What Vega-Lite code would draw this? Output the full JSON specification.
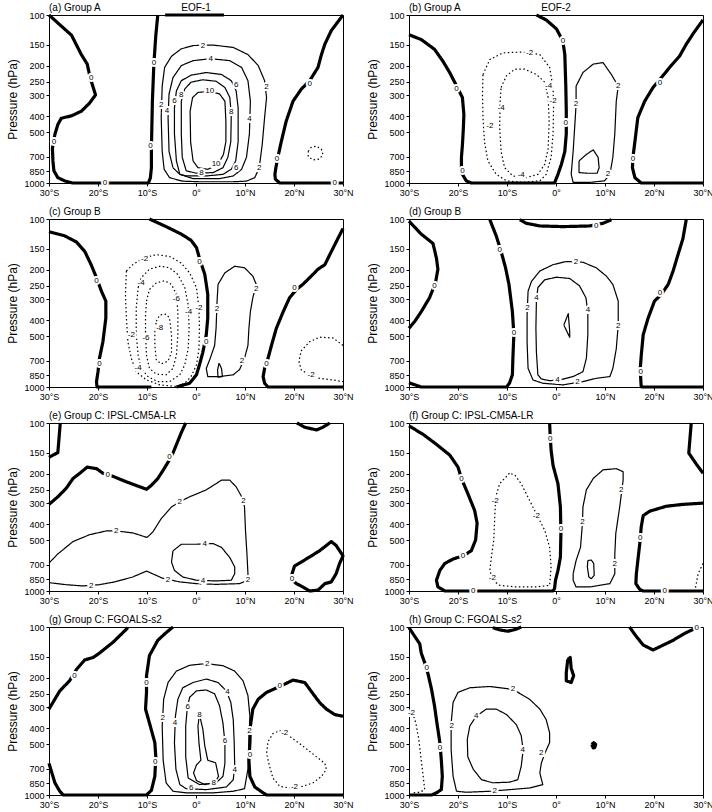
{
"$schema": "https://vega.github.io/schema/vega-lite/v6.json",
"padding": {"left": 6, "top": 2, "right": 2, "bottom": 2},
"background": "white",
"config": {"font": "Liberation Sans", "view": {"stroke": "black", "strokeWidth": 1}, "axis": {"grid": false, "domain": false, "tickColor": "black", "labelColor": "black", "titleColor": "black", "labelFontSize": 9, "tickSize": 3, "labelPadding": 2}},
"data": {"values": [
{"panel":"a","id":1,"level":0,"lat":-30,"p":100},{"panel":"a","id":1,"level":0,"lat":-25.4,"p":132},{"panel":"a","id":1,"level":0,"lat":-23.4,"p":172},{"panel":"a","id":1,"level":0,"lat":-22.2,"p":196},{"panel":"a","id":1,"level":0,"lat":-21.6,"p":236},{"panel":"a","id":1,"level":0,"lat":-20.5,"p":299},{"panel":"a","id":1,"level":0,"lat":-21.7,"p":334},{"panel":"a","id":1,"level":0,"lat":-23.4,"p":374},{"panel":"a","id":1,"level":0,"lat":-25.4,"p":398},{"panel":"a","id":1,"level":0,"lat":-27.5,"p":412},{"panel":"a","id":1,"level":0,"lat":-28.2,"p":449},{"panel":"a","id":1,"level":0,"lat":-28.8,"p":514},{"panel":"a","id":1,"level":0,"lat":-29.3,"p":622},{"panel":"a","id":1,"level":0,"lat":-29.2,"p":739},{"panel":"a","id":1,"level":0,"lat":-29,"p":846},{"panel":"a","id":1,"level":0,"lat":-28.2,"p":929},{"panel":"a","id":1,"level":0,"lat":-26.8,"p":971},{"panel":"a","id":1,"level":0,"lat":-25.2,"p":1000},{"panel":"a","id":1,"level":0,"lat":-9.7,"p":1000},{"panel":"a","id":1,"level":0,"lat":-9.3,"p":929},{"panel":"a","id":1,"level":0,"lat":-9.1,"p":811},{"panel":"a","id":1,"level":0,"lat":-9.1,"p":622},{"panel":"a","id":1,"level":0,"lat":-8.9,"p":326},{"panel":"a","id":1,"level":0,"lat":-8.6,"p":196},{"panel":"a","id":1,"level":0,"lat":-8.2,"p":132},{"panel":"a","id":1,"level":0,"lat":-7.8,"p":100},
{"panel":"a","id":2,"level":0,"lat":-6.3,"p":100},{"panel":"a","id":2,"level":0,"lat":5.7,"p":100},
{"panel":"a","id":3,"level":0,"lat":30,"p":100},{"panel":"a","id":3,"level":0,"lat":27.6,"p":124},{"panel":"a","id":3,"level":0,"lat":26.3,"p":149},{"panel":"a","id":3,"level":0,"lat":25.6,"p":172},{"panel":"a","id":3,"level":0,"lat":24.9,"p":205},{"panel":"a","id":3,"level":0,"lat":23.2,"p":246},{"panel":"a","id":3,"level":0,"lat":21.5,"p":276},{"panel":"a","id":3,"level":0,"lat":19.8,"p":326},{"panel":"a","id":3,"level":0,"lat":18.4,"p":429},{"panel":"a","id":3,"level":0,"lat":17.4,"p":568},{"panel":"a","id":3,"level":0,"lat":16.7,"p":704},{"panel":"a","id":3,"level":0,"lat":16.3,"p":811},{"panel":"a","id":3,"level":0,"lat":16.1,"p":888},{"panel":"a","id":3,"level":0,"lat":16.2,"p":950},{"panel":"a","id":3,"level":0,"lat":17.1,"p":1000},{"panel":"a","id":3,"level":0,"lat":30,"p":1000},
{"panel":"a","id":4,"level":-2,"lat":22.9,"p":649},{"panel":"a","id":4,"level":-2,"lat":23.5,"p":614},{"panel":"a","id":4,"level":-2,"lat":24.6,"p":603},{"panel":"a","id":4,"level":-2,"lat":25.6,"p":630},{"panel":"a","id":4,"level":-2,"lat":25.9,"p":676},{"panel":"a","id":4,"level":-2,"lat":25.2,"p":721},{"panel":"a","id":4,"level":-2,"lat":23.9,"p":729},{"panel":"a","id":4,"level":-2,"lat":22.9,"p":697},{"panel":"a","id":4,"level":-2,"lat":22.9,"p":649},
{"panel":"a","id":5,"level":2,"lat":-2.8,"p":975},{"panel":"a","id":5,"level":2,"lat":-5.4,"p":929},{"panel":"a","id":5,"level":2,"lat":-6.5,"p":829},{"panel":"a","id":5,"level":2,"lat":-6.9,"p":649},{"panel":"a","id":5,"level":2,"lat":-7.1,"p":408},{"panel":"a","id":5,"level":2,"lat":-6.9,"p":265},{"panel":"a","id":5,"level":2,"lat":-6.4,"p":205},{"panel":"a","id":5,"level":2,"lat":-5,"p":176},{"panel":"a","id":5,"level":2,"lat":-3,"p":159},{"panel":"a","id":5,"level":2,"lat":-0.6,"p":152},{"panel":"a","id":5,"level":2,"lat":3.5,"p":151},{"panel":"a","id":5,"level":2,"lat":7.6,"p":156},{"panel":"a","id":5,"level":2,"lat":10.6,"p":172},{"panel":"a","id":5,"level":2,"lat":12.7,"p":200},{"panel":"a","id":5,"level":2,"lat":14,"p":246},{"panel":"a","id":5,"level":2,"lat":14.4,"p":310},{"panel":"a","id":5,"level":2,"lat":14,"p":408},{"panel":"a","id":5,"level":2,"lat":13.5,"p":595},{"panel":"a","id":5,"level":2,"lat":12.9,"p":811},{"panel":"a","id":5,"level":2,"lat":12,"p":929},{"panel":"a","id":5,"level":2,"lat":10.3,"p":975},{"panel":"a","id":5,"level":2,"lat":7.6,"p":983},{"panel":"a","id":5,"level":2,"lat":0.7,"p":983},{"panel":"a","id":5,"level":2,"lat":-2.8,"p":975},
{"panel":"a","id":6,"level":4,"lat":-4.7,"p":811},{"panel":"a","id":6,"level":4,"lat":-5.5,"p":649},{"panel":"a","id":6,"level":4,"lat":-5.7,"p":408},{"panel":"a","id":6,"level":4,"lat":-5.5,"p":295},{"panel":"a","id":6,"level":4,"lat":-4.7,"p":236},{"panel":"a","id":6,"level":4,"lat":-3,"p":200},{"panel":"a","id":6,"level":4,"lat":-0.6,"p":187},{"panel":"a","id":6,"level":4,"lat":3,"p":182},{"panel":"a","id":6,"level":4,"lat":6.9,"p":187},{"panel":"a","id":6,"level":4,"lat":9.3,"p":205},{"panel":"a","id":6,"level":4,"lat":10.6,"p":246},{"panel":"a","id":6,"level":4,"lat":11.1,"p":326},{"panel":"a","id":6,"level":4,"lat":10.9,"p":510},{"panel":"a","id":6,"level":4,"lat":10.3,"p":704},{"panel":"a","id":6,"level":4,"lat":9.3,"p":829},{"panel":"a","id":6,"level":4,"lat":7.6,"p":908},{"panel":"a","id":6,"level":4,"lat":4.8,"p":942},{"panel":"a","id":6,"level":4,"lat":-0.6,"p":942},{"panel":"a","id":6,"level":4,"lat":-3.3,"p":888},{"panel":"a","id":6,"level":4,"lat":-4.7,"p":811},
{"panel":"a","id":7,"level":6,"lat":-3.3,"p":888},{"panel":"a","id":7,"level":6,"lat":-4,"p":739},{"panel":"a","id":7,"level":6,"lat":-4.4,"p":510},{"panel":"a","id":7,"level":6,"lat":-4.4,"p":358},{"panel":"a","id":7,"level":6,"lat":-4,"p":283},{"panel":"a","id":7,"level":6,"lat":-3,"p":246},{"panel":"a","id":7,"level":6,"lat":-1,"p":228},{"panel":"a","id":7,"level":6,"lat":2.1,"p":220},{"panel":"a","id":7,"level":6,"lat":5.2,"p":226},{"panel":"a","id":7,"level":6,"lat":7.2,"p":246},{"panel":"a","id":7,"level":6,"lat":8.2,"p":283},{"panel":"a","id":7,"level":6,"lat":8.6,"p":358},{"panel":"a","id":7,"level":6,"lat":8.6,"p":568},{"panel":"a","id":7,"level":6,"lat":8.1,"p":739},{"panel":"a","id":7,"level":6,"lat":7.2,"p":829},{"panel":"a","id":7,"level":6,"lat":5.5,"p":888},{"panel":"a","id":7,"level":6,"lat":2.1,"p":908},{"panel":"a","id":7,"level":6,"lat":-2,"p":908},{"panel":"a","id":7,"level":6,"lat":-3.3,"p":888},
{"panel":"a","id":8,"level":8,"lat":-2,"p":846},{"panel":"a","id":8,"level":8,"lat":-2.8,"p":704},{"panel":"a","id":8,"level":8,"lat":-3,"p":510},{"panel":"a","id":8,"level":8,"lat":-3,"p":326},{"panel":"a","id":8,"level":8,"lat":-2.3,"p":276},{"panel":"a","id":8,"level":8,"lat":-1,"p":251},{"panel":"a","id":8,"level":8,"lat":1.4,"p":243},{"panel":"a","id":8,"level":8,"lat":4.1,"p":248},{"panel":"a","id":8,"level":8,"lat":5.9,"p":270},{"panel":"a","id":8,"level":8,"lat":6.9,"p":310},{"panel":"a","id":8,"level":8,"lat":7.2,"p":390},{"panel":"a","id":8,"level":8,"lat":7.1,"p":568},{"panel":"a","id":8,"level":8,"lat":6.5,"p":704},{"panel":"a","id":8,"level":8,"lat":5.5,"p":811},{"panel":"a","id":8,"level":8,"lat":3.5,"p":867},{"panel":"a","id":8,"level":8,"lat":0.1,"p":875},{"panel":"a","id":8,"level":8,"lat":-2,"p":846},
{"panel":"a","id":9,"level":10,"lat":-0.6,"p":739},{"panel":"a","id":9,"level":10,"lat":-1.1,"p":568},{"panel":"a","id":9,"level":10,"lat":-1.2,"p":374},{"panel":"a","id":9,"level":10,"lat":-0.7,"p":310},{"panel":"a","id":9,"level":10,"lat":0.4,"p":289},{"panel":"a","id":9,"level":10,"lat":2.8,"p":285},{"panel":"a","id":9,"level":10,"lat":4.8,"p":295},{"panel":"a","id":9,"level":10,"lat":5.9,"p":326},{"panel":"a","id":9,"level":10,"lat":6.1,"p":429},{"panel":"a","id":9,"level":10,"lat":6.1,"p":568},{"panel":"a","id":9,"level":10,"lat":5.6,"p":676},{"panel":"a","id":9,"level":10,"lat":4.5,"p":775},{"panel":"a","id":9,"level":10,"lat":2.4,"p":829},{"panel":"a","id":9,"level":10,"lat":0.4,"p":811},{"panel":"a","id":9,"level":10,"lat":-0.6,"p":739},

{"panel":"b","id":1,"level":0,"lat":-30,"p":131},{"panel":"b","id":1,"level":0,"lat":-27.5,"p":140},{"panel":"b","id":1,"level":0,"lat":-24.8,"p":160},{"panel":"b","id":1,"level":0,"lat":-23.1,"p":188},{"panel":"b","id":1,"level":0,"lat":-21.7,"p":220},{"panel":"b","id":1,"level":0,"lat":-20.3,"p":264},{"panel":"b","id":1,"level":0,"lat":-19.1,"p":310},{"panel":"b","id":1,"level":0,"lat":-18.8,"p":390},{"panel":"b","id":1,"level":0,"lat":-18.9,"p":469},{"panel":"b","id":1,"level":0,"lat":-19.1,"p":595},{"panel":"b","id":1,"level":0,"lat":-19.3,"p":704},{"panel":"b","id":1,"level":0,"lat":-19.3,"p":811},{"panel":"b","id":1,"level":0,"lat":-19.1,"p":888},{"panel":"b","id":1,"level":0,"lat":-18.3,"p":971},{"panel":"b","id":1,"level":0,"lat":-17.3,"p":1000},{"panel":"b","id":1,"level":0,"lat":-0.3,"p":1000},{"panel":"b","id":1,"level":0,"lat":0.4,"p":888},{"panel":"b","id":1,"level":0,"lat":1.1,"p":775},{"panel":"b","id":1,"level":0,"lat":1.8,"p":649},{"panel":"b","id":1,"level":0,"lat":2.1,"p":510},{"panel":"b","id":1,"level":0,"lat":2.1,"p":374},{"panel":"b","id":1,"level":0,"lat":2,"p":265},{"panel":"b","id":1,"level":0,"lat":1.8,"p":172},{"panel":"b","id":1,"level":0,"lat":1.4,"p":143},{"panel":"b","id":1,"level":0,"lat":0.1,"p":121},{"panel":"b","id":1,"level":0,"lat":-2,"p":107},{"panel":"b","id":1,"level":0,"lat":-4,"p":100},
{"panel":"b","id":2,"level":0,"lat":30,"p":107},{"panel":"b","id":2,"level":0,"lat":28,"p":129},{"panel":"b","id":2,"level":0,"lat":26.6,"p":149},{"panel":"b","id":2,"level":0,"lat":25.2,"p":176},{"panel":"b","id":2,"level":0,"lat":23.5,"p":200},{"panel":"b","id":2,"level":0,"lat":21.5,"p":236},{"panel":"b","id":2,"level":0,"lat":19.8,"p":270},{"panel":"b","id":2,"level":0,"lat":18.1,"p":326},{"panel":"b","id":2,"level":0,"lat":16.7,"p":408},{"panel":"b","id":2,"level":0,"lat":16.1,"p":568},{"panel":"b","id":2,"level":0,"lat":15.7,"p":704},{"panel":"b","id":2,"level":0,"lat":15.6,"p":811},{"panel":"b","id":2,"level":0,"lat":16.1,"p":929},{"panel":"b","id":2,"level":0,"lat":17.4,"p":1000},{"panel":"b","id":2,"level":0,"lat":30,"p":1000},
{"panel":"b","id":3,"level":-2,"lat":-14.9,"p":226},{"panel":"b","id":3,"level":-2,"lat":-13.5,"p":184},{"panel":"b","id":3,"level":-2,"lat":-10.8,"p":168},{"panel":"b","id":3,"level":-2,"lat":-6.7,"p":166},{"panel":"b","id":3,"level":-2,"lat":-3.3,"p":172},{"panel":"b","id":3,"level":-2,"lat":-1.3,"p":205},{"panel":"b","id":3,"level":-2,"lat":-0.6,"p":270},{"panel":"b","id":3,"level":-2,"lat":-0.5,"p":358},{"panel":"b","id":3,"level":-2,"lat":-0.6,"p":510},{"panel":"b","id":3,"level":-2,"lat":-1,"p":704},{"panel":"b","id":3,"level":-2,"lat":-2,"p":888},{"panel":"b","id":3,"level":-2,"lat":-3.3,"p":971},{"panel":"b","id":3,"level":-2,"lat":-6.7,"p":992},{"panel":"b","id":3,"level":-2,"lat":-10.1,"p":971},{"panel":"b","id":3,"level":-2,"lat":-12.2,"p":888},{"panel":"b","id":3,"level":-2,"lat":-13.9,"p":739},{"panel":"b","id":3,"level":-2,"lat":-14.6,"p":568},{"panel":"b","id":3,"level":-2,"lat":-14.9,"p":408},{"panel":"b","id":3,"level":-2,"lat":-15,"p":295},{"panel":"b","id":3,"level":-2,"lat":-14.9,"p":226},
{"panel":"b","id":4,"level":-4,"lat":-11.2,"p":270},{"panel":"b","id":4,"level":-4,"lat":-10.1,"p":230},{"panel":"b","id":4,"level":-4,"lat":-8.4,"p":210},{"panel":"b","id":4,"level":-4,"lat":-6.4,"p":210},{"panel":"b","id":4,"level":-4,"lat":-4,"p":226},{"panel":"b","id":4,"level":-4,"lat":-2.3,"p":251},{"panel":"b","id":4,"level":-4,"lat":-1.6,"p":310},{"panel":"b","id":4,"level":-4,"lat":-1.4,"p":429},{"panel":"b","id":4,"level":-4,"lat":-1.6,"p":622},{"panel":"b","id":4,"level":-4,"lat":-2.3,"p":775},{"panel":"b","id":4,"level":-4,"lat":-3.7,"p":888},{"panel":"b","id":4,"level":-4,"lat":-6.1,"p":929},{"panel":"b","id":4,"level":-4,"lat":-8.8,"p":908},{"panel":"b","id":4,"level":-4,"lat":-10.5,"p":811},{"panel":"b","id":4,"level":-4,"lat":-11.2,"p":649},{"panel":"b","id":4,"level":-4,"lat":-11.5,"p":469},{"panel":"b","id":4,"level":-4,"lat":-11.4,"p":326},{"panel":"b","id":4,"level":-4,"lat":-11.2,"p":270},
{"panel":"b","id":5,"level":2,"lat":4.1,"p":265},{"panel":"b","id":5,"level":2,"lat":5.5,"p":220},{"panel":"b","id":5,"level":2,"lat":7.6,"p":196},{"panel":"b","id":5,"level":2,"lat":9.6,"p":192},{"panel":"b","id":5,"level":2,"lat":11.3,"p":226},{"panel":"b","id":5,"level":2,"lat":12.7,"p":265},{"panel":"b","id":5,"level":2,"lat":12.3,"p":326},{"panel":"b","id":5,"level":2,"lat":12,"p":510},{"panel":"b","id":5,"level":2,"lat":11.6,"p":704},{"panel":"b","id":5,"level":2,"lat":11,"p":888},{"panel":"b","id":5,"level":2,"lat":9.9,"p":971},{"panel":"b","id":5,"level":2,"lat":6.9,"p":992},{"panel":"b","id":5,"level":2,"lat":3.5,"p":992},{"panel":"b","id":5,"level":2,"lat":3.1,"p":888},{"panel":"b","id":5,"level":2,"lat":3.5,"p":649},{"panel":"b","id":5,"level":2,"lat":4.1,"p":342},{"panel":"b","id":5,"level":2,"lat":4.1,"p":265},
{"panel":"b","id":6,"level":4,"lat":4.7,"p":739},{"panel":"b","id":6,"level":4,"lat":6.2,"p":676},{"panel":"b","id":6,"level":4,"lat":7.6,"p":635},{"panel":"b","id":6,"level":4,"lat":8.6,"p":704},{"panel":"b","id":6,"level":4,"lat":8.8,"p":811},{"panel":"b","id":6,"level":4,"lat":8.4,"p":875},{"panel":"b","id":6,"level":4,"lat":6.5,"p":875},{"panel":"b","id":6,"level":4,"lat":4.7,"p":867},{"panel":"b","id":6,"level":4,"lat":4.7,"p":739},

{"panel":"c","id":1,"level":0,"lat":-30,"p":119},{"panel":"c","id":1,"level":0,"lat":-26.8,"p":126},{"panel":"c","id":1,"level":0,"lat":-24.4,"p":137},{"panel":"c","id":1,"level":0,"lat":-22.7,"p":156},{"panel":"c","id":1,"level":0,"lat":-21.4,"p":187},{"panel":"c","id":1,"level":0,"lat":-20.3,"p":224},{"panel":"c","id":1,"level":0,"lat":-19.3,"p":269},{"panel":"c","id":1,"level":0,"lat":-18.4,"p":308},{"panel":"c","id":1,"level":0,"lat":-18.4,"p":389},{"panel":"c","id":1,"level":0,"lat":-19,"p":538},{"panel":"c","id":1,"level":0,"lat":-19.7,"p":675},{"panel":"c","id":1,"level":0,"lat":-20,"p":811},{"panel":"c","id":1,"level":0,"lat":-20.3,"p":929},{"panel":"c","id":1,"level":0,"lat":-20.2,"p":1000},{"panel":"c","id":1,"level":0,"lat":-9.1,"p":1000},
{"panel":"c","id":2,"level":0,"lat":-4,"p":1000},{"panel":"c","id":2,"level":0,"lat":-1.3,"p":950},{"panel":"c","id":2,"level":0,"lat":0.1,"p":846},{"panel":"c","id":2,"level":0,"lat":0.7,"p":739},{"panel":"c","id":2,"level":0,"lat":1.4,"p":621},{"panel":"c","id":2,"level":0,"lat":2.1,"p":488},{"panel":"c","id":2,"level":0,"lat":2.4,"p":389},{"panel":"c","id":2,"level":0,"lat":2.4,"p":281},{"panel":"c","id":2,"level":0,"lat":1.8,"p":214},{"panel":"c","id":2,"level":0,"lat":0.7,"p":171},{"panel":"c","id":2,"level":0,"lat":0.1,"p":148},{"panel":"c","id":2,"level":0,"lat":-1,"p":134},{"panel":"c","id":2,"level":0,"lat":-3,"p":123},{"panel":"c","id":2,"level":0,"lat":-6.1,"p":111},{"panel":"c","id":2,"level":0,"lat":-9.5,"p":100},
{"panel":"c","id":3,"level":0,"lat":30,"p":114},{"panel":"c","id":3,"level":0,"lat":28.6,"p":137},{"panel":"c","id":3,"level":0,"lat":27.3,"p":163},{"panel":"c","id":3,"level":0,"lat":26.3,"p":187},{"panel":"c","id":3,"level":0,"lat":24.9,"p":199},{"panel":"c","id":3,"level":0,"lat":23.5,"p":219},{"panel":"c","id":3,"level":0,"lat":21.8,"p":245},{"panel":"c","id":3,"level":0,"lat":20.5,"p":263},{"panel":"c","id":3,"level":0,"lat":19.1,"p":294},{"panel":"c","id":3,"level":0,"lat":17.8,"p":356},{"panel":"c","id":3,"level":0,"lat":16.4,"p":447},{"panel":"c","id":3,"level":0,"lat":15.4,"p":566},{"panel":"c","id":3,"level":0,"lat":14.7,"p":675},{"panel":"c","id":3,"level":0,"lat":14,"p":775},{"panel":"c","id":3,"level":0,"lat":13.7,"p":867},{"panel":"c","id":3,"level":0,"lat":14,"p":950},{"panel":"c","id":3,"level":0,"lat":14.7,"p":1000},{"panel":"c","id":3,"level":0,"lat":30,"p":1000},
{"panel":"c","id":4,"level":-2,"lat":-14.2,"p":204},{"panel":"c","id":4,"level":-2,"lat":-12.9,"p":187},{"panel":"c","id":4,"level":-2,"lat":-10.8,"p":171},{"panel":"c","id":4,"level":-2,"lat":-8.1,"p":163},{"panel":"c","id":4,"level":-2,"lat":-5.4,"p":167},{"panel":"c","id":4,"level":-2,"lat":-3,"p":183},{"panel":"c","id":4,"level":-2,"lat":-1.3,"p":209},{"panel":"c","id":4,"level":-2,"lat":0.1,"p":256},{"panel":"c","id":4,"level":-2,"lat":0.6,"p":340},{"panel":"c","id":4,"level":-2,"lat":0.7,"p":447},{"panel":"c","id":4,"level":-2,"lat":0.6,"p":593},{"panel":"c","id":4,"level":-2,"lat":0.1,"p":739},{"panel":"c","id":4,"level":-2,"lat":-1,"p":867},{"panel":"c","id":4,"level":-2,"lat":-2.3,"p":950},{"panel":"c","id":4,"level":-2,"lat":-4,"p":992},{"panel":"c","id":4,"level":-2,"lat":-7.4,"p":971},{"panel":"c","id":4,"level":-2,"lat":-10.1,"p":908},{"panel":"c","id":4,"level":-2,"lat":-12.2,"p":811},{"panel":"c","id":4,"level":-2,"lat":-13.2,"p":675},{"panel":"c","id":4,"level":-2,"lat":-13.9,"p":538},{"panel":"c","id":4,"level":-2,"lat":-14.2,"p":389},{"panel":"c","id":4,"level":-2,"lat":-14.4,"p":281},{"panel":"c","id":4,"level":-2,"lat":-14.2,"p":204},
{"panel":"c","id":5,"level":-4,"lat":-11.8,"p":256},{"panel":"c","id":5,"level":-4,"lat":-11.2,"p":224},{"panel":"c","id":5,"level":-4,"lat":-9.5,"p":199},{"panel":"c","id":5,"level":-4,"lat":-7.4,"p":191},{"panel":"c","id":5,"level":-4,"lat":-5.4,"p":195},{"panel":"c","id":5,"level":-4,"lat":-3.7,"p":214},{"panel":"c","id":5,"level":-4,"lat":-2.3,"p":256},{"panel":"c","id":5,"level":-4,"lat":-1.6,"p":324},{"panel":"c","id":5,"level":-4,"lat":-1.4,"p":447},{"panel":"c","id":5,"level":-4,"lat":-1.6,"p":593},{"panel":"c","id":5,"level":-4,"lat":-2.3,"p":739},{"panel":"c","id":5,"level":-4,"lat":-3.3,"p":846},{"panel":"c","id":5,"level":-4,"lat":-5.4,"p":929},{"panel":"c","id":5,"level":-4,"lat":-7.8,"p":929},{"panel":"c","id":5,"level":-4,"lat":-9.8,"p":867},{"panel":"c","id":5,"level":-4,"lat":-11.2,"p":775},{"panel":"c","id":5,"level":-4,"lat":-11.8,"p":648},{"panel":"c","id":5,"level":-4,"lat":-12.2,"p":488},{"panel":"c","id":5,"level":-4,"lat":-12.2,"p":340},{"panel":"c","id":5,"level":-4,"lat":-11.8,"p":256},
{"panel":"c","id":6,"level":-6,"lat":-10.1,"p":308},{"panel":"c","id":6,"level":-6,"lat":-9.5,"p":263},{"panel":"c","id":6,"level":-6,"lat":-8.1,"p":240},{"panel":"c","id":6,"level":-6,"lat":-6.4,"p":233},{"panel":"c","id":6,"level":-6,"lat":-5,"p":245},{"panel":"c","id":6,"level":-6,"lat":-4,"p":281},{"panel":"c","id":6,"level":-6,"lat":-3.7,"p":356},{"panel":"c","id":6,"level":-6,"lat":-3.7,"p":488},{"panel":"c","id":6,"level":-6,"lat":-4,"p":648},{"panel":"c","id":6,"level":-6,"lat":-4.7,"p":775},{"panel":"c","id":6,"level":-6,"lat":-6.1,"p":846},{"panel":"c","id":6,"level":-6,"lat":-8.1,"p":839},{"panel":"c","id":6,"level":-6,"lat":-9.5,"p":775},{"panel":"c","id":6,"level":-6,"lat":-10.1,"p":648},{"panel":"c","id":6,"level":-6,"lat":-10.3,"p":488},{"panel":"c","id":6,"level":-6,"lat":-10.3,"p":373},{"panel":"c","id":6,"level":-6,"lat":-10.1,"p":308},
{"panel":"c","id":7,"level":-8,"lat":-8.1,"p":406},{"panel":"c","id":7,"level":-8,"lat":-7.4,"p":373},{"panel":"c","id":7,"level":-8,"lat":-6.1,"p":368},{"panel":"c","id":7,"level":-8,"lat":-5.4,"p":389},{"panel":"c","id":7,"level":-8,"lat":-5,"p":488},{"panel":"c","id":7,"level":-8,"lat":-5,"p":621},{"panel":"c","id":7,"level":-8,"lat":-5.7,"p":701},{"panel":"c","id":7,"level":-8,"lat":-7.1,"p":729},{"panel":"c","id":7,"level":-8,"lat":-8.1,"p":689},{"panel":"c","id":7,"level":-8,"lat":-8.4,"p":566},{"panel":"c","id":7,"level":-8,"lat":-8.4,"p":467},{"panel":"c","id":7,"level":-8,"lat":-8.1,"p":406},
{"panel":"c","id":8,"level":2,"lat":4.5,"p":245},{"panel":"c","id":8,"level":2,"lat":5.9,"p":209},{"panel":"c","id":8,"level":2,"lat":7.9,"p":191},{"panel":"c","id":8,"level":2,"lat":9.9,"p":195},{"panel":"c","id":8,"level":2,"lat":11.6,"p":219},{"panel":"c","id":8,"level":2,"lat":12.3,"p":245},{"panel":"c","id":8,"level":2,"lat":11.6,"p":294},{"panel":"c","id":8,"level":2,"lat":11.1,"p":356},{"panel":"c","id":8,"level":2,"lat":10.8,"p":447},{"panel":"c","id":8,"level":2,"lat":10.6,"p":566},{"panel":"c","id":8,"level":2,"lat":9.9,"p":675},{"panel":"c","id":8,"level":2,"lat":8.9,"p":787},{"panel":"c","id":8,"level":2,"lat":7.6,"p":846},{"panel":"c","id":8,"level":2,"lat":4.8,"p":867},{"panel":"c","id":8,"level":2,"lat":2.4,"p":867},{"panel":"c","id":8,"level":2,"lat":2.1,"p":775},{"panel":"c","id":8,"level":2,"lat":2.9,"p":675},{"panel":"c","id":8,"level":2,"lat":3.8,"p":566},{"panel":"c","id":8,"level":2,"lat":4.1,"p":447},{"panel":"c","id":8,"level":2,"lat":4.3,"p":308},{"panel":"c","id":8,"level":2,"lat":4.5,"p":245},
{"panel":"c","id":9,"level":4,"lat":4.7,"p":721},{"panel":"c","id":9,"level":4,"lat":5.2,"p":775},{"panel":"c","id":9,"level":4,"lat":5.4,"p":867},{"panel":"c","id":9,"level":4,"lat":4.5,"p":875},{"panel":"c","id":9,"level":4,"lat":4.4,"p":793},{"panel":"c","id":9,"level":4,"lat":4.7,"p":721},
{"panel":"c","id":10,"level":-2,"lat":30,"p":566},{"panel":"c","id":10,"level":-2,"lat":28,"p":511},{"panel":"c","id":10,"level":-2,"lat":25.2,"p":505},{"panel":"c","id":10,"level":-2,"lat":23.2,"p":538},{"panel":"c","id":10,"level":-2,"lat":21.5,"p":607},{"panel":"c","id":10,"level":-2,"lat":21,"p":702},{"panel":"c","id":10,"level":-2,"lat":21.5,"p":793},{"panel":"c","id":10,"level":-2,"lat":23.2,"p":846},{"panel":"c","id":10,"level":-2,"lat":25.2,"p":888},{"panel":"c","id":10,"level":-2,"lat":28,"p":908},{"panel":"c","id":10,"level":-2,"lat":30,"p":929},

{"panel":"d","id":1,"level":0,"lat":-30,"p":103},{"panel":"d","id":1,"level":0,"lat":-27.5,"p":123},{"panel":"d","id":1,"level":0,"lat":-25.1,"p":140},{"panel":"d","id":1,"level":0,"lat":-24.4,"p":171},{"panel":"d","id":1,"level":0,"lat":-24.1,"p":199},{"panel":"d","id":1,"level":0,"lat":-24.6,"p":240},{"panel":"d","id":1,"level":0,"lat":-25.8,"p":294},{"panel":"d","id":1,"level":0,"lat":-27.5,"p":356},{"panel":"d","id":1,"level":0,"lat":-28.8,"p":406},{"panel":"d","id":1,"level":0,"lat":-30,"p":447},
{"panel":"d","id":2,"level":0,"lat":-30,"p":944},{"panel":"d","id":2,"level":0,"lat":-28.8,"p":971},{"panel":"d","id":2,"level":0,"lat":-27.5,"p":1000},{"panel":"d","id":2,"level":0,"lat":-10.1,"p":1000},{"panel":"d","id":2,"level":0,"lat":-9.5,"p":950},{"panel":"d","id":2,"level":0,"lat":-8.9,"p":846},{"panel":"d","id":2,"level":0,"lat":-8.8,"p":675},{"panel":"d","id":2,"level":0,"lat":-8.6,"p":488},{"panel":"d","id":2,"level":0,"lat":-8.9,"p":356},{"panel":"d","id":2,"level":0,"lat":-9.6,"p":245},{"panel":"d","id":2,"level":0,"lat":-10.3,"p":195},{"panel":"d","id":2,"level":0,"lat":-11.2,"p":156},{"panel":"d","id":2,"level":0,"lat":-12.2,"p":126},{"panel":"d","id":2,"level":0,"lat":-13.5,"p":101},
{"panel":"d","id":3,"level":0,"lat":-7.4,"p":101},{"panel":"d","id":3,"level":0,"lat":-6.1,"p":106},{"panel":"d","id":3,"level":0,"lat":-3.3,"p":110},{"panel":"d","id":3,"level":0,"lat":1.4,"p":111},{"panel":"d","id":3,"level":0,"lat":6.9,"p":110},{"panel":"d","id":3,"level":0,"lat":9.6,"p":106},{"panel":"d","id":3,"level":0,"lat":11.3,"p":101},
{"panel":"d","id":4,"level":0,"lat":26.6,"p":100},{"panel":"d","id":4,"level":0,"lat":25.9,"p":131},{"panel":"d","id":4,"level":0,"lat":24.9,"p":163},{"panel":"d","id":4,"level":0,"lat":23.9,"p":204},{"panel":"d","id":4,"level":0,"lat":22.9,"p":245},{"panel":"d","id":4,"level":0,"lat":21.5,"p":281},{"panel":"d","id":4,"level":0,"lat":20.1,"p":308},{"panel":"d","id":4,"level":0,"lat":18.8,"p":389},{"panel":"d","id":4,"level":0,"lat":17.8,"p":488},{"panel":"d","id":4,"level":0,"lat":17.4,"p":648},{"panel":"d","id":4,"level":0,"lat":17.2,"p":775},{"panel":"d","id":4,"level":0,"lat":17.3,"p":908},{"panel":"d","id":4,"level":0,"lat":17.4,"p":1000},{"panel":"d","id":4,"level":0,"lat":30,"p":1000},
{"panel":"d","id":5,"level":2,"lat":-5.7,"p":269},{"panel":"d","id":5,"level":2,"lat":-5,"p":235},{"panel":"d","id":5,"level":2,"lat":-3.3,"p":204},{"panel":"d","id":5,"level":2,"lat":-0.6,"p":187},{"panel":"d","id":5,"level":2,"lat":2.1,"p":179},{"panel":"d","id":5,"level":2,"lat":5.5,"p":181},{"panel":"d","id":5,"level":2,"lat":8.2,"p":195},{"panel":"d","id":5,"level":2,"lat":10.3,"p":219},{"panel":"d","id":5,"level":2,"lat":11.6,"p":245},{"panel":"d","id":5,"level":2,"lat":12.7,"p":308},{"panel":"d","id":5,"level":2,"lat":12.7,"p":427},{"panel":"d","id":5,"level":2,"lat":12.3,"p":593},{"panel":"d","id":5,"level":2,"lat":11.6,"p":775},{"panel":"d","id":5,"level":2,"lat":11,"p":867},{"panel":"d","id":5,"level":2,"lat":8.2,"p":888},{"panel":"d","id":5,"level":2,"lat":5.5,"p":929},{"panel":"d","id":5,"level":2,"lat":1.4,"p":971},{"panel":"d","id":5,"level":2,"lat":-2.7,"p":950},{"panel":"d","id":5,"level":2,"lat":-4.7,"p":908},{"panel":"d","id":5,"level":2,"lat":-5.7,"p":775},{"panel":"d","id":5,"level":2,"lat":-5.9,"p":538},{"panel":"d","id":5,"level":2,"lat":-5.9,"p":373},{"panel":"d","id":5,"level":2,"lat":-5.7,"p":269},
{"panel":"d","id":6,"level":4,"lat":-4,"p":308},{"panel":"d","id":6,"level":4,"lat":-3.7,"p":256},{"panel":"d","id":6,"level":4,"lat":-2.3,"p":230},{"panel":"d","id":6,"level":4,"lat":0.1,"p":222},{"panel":"d","id":6,"level":4,"lat":2.8,"p":226},{"panel":"d","id":6,"level":4,"lat":4.8,"p":250},{"panel":"d","id":6,"level":4,"lat":6.1,"p":294},{"panel":"d","id":6,"level":4,"lat":6.5,"p":356},{"panel":"d","id":6,"level":4,"lat":6.5,"p":488},{"panel":"d","id":6,"level":4,"lat":6.2,"p":675},{"panel":"d","id":6,"level":4,"lat":5.5,"p":811},{"panel":"d","id":6,"level":4,"lat":3.5,"p":867},{"panel":"d","id":6,"level":4,"lat":0.7,"p":908},{"panel":"d","id":6,"level":4,"lat":-1.3,"p":917},{"panel":"d","id":6,"level":4,"lat":-3,"p":896},{"panel":"d","id":6,"level":4,"lat":-3.7,"p":846},{"panel":"d","id":6,"level":4,"lat":-4,"p":621},{"panel":"d","id":6,"level":4,"lat":-4.1,"p":447},{"panel":"d","id":6,"level":4,"lat":-4,"p":308},
{"panel":"d","id":7,"level":6,"lat":1.6,"p":428},{"panel":"d","id":7,"level":6,"lat":2.5,"p":366},{"panel":"d","id":7,"level":6,"lat":2.8,"p":467},{"panel":"d","id":7,"level":6,"lat":2.8,"p":506},{"panel":"d","id":7,"level":6,"lat":1.6,"p":428},

{"panel":"e","id":1,"level":0,"lat":-30,"p":160},{"panel":"e","id":1,"level":0,"lat":-28.2,"p":150},{"panel":"e","id":1,"level":0,"lat":-28,"p":128},{"panel":"e","id":1,"level":0,"lat":-27.7,"p":100},
{"panel":"e","id":2,"level":0,"lat":-30,"p":305},{"panel":"e","id":2,"level":0,"lat":-28.2,"p":275},{"panel":"e","id":2,"level":0,"lat":-26.5,"p":245},{"panel":"e","id":2,"level":0,"lat":-25.1,"p":214},{"panel":"e","id":2,"level":0,"lat":-23.7,"p":199},{"panel":"e","id":2,"level":0,"lat":-22.2,"p":183},{"panel":"e","id":2,"level":0,"lat":-20.3,"p":187},{"panel":"e","id":2,"level":0,"lat":-19,"p":199},{"panel":"e","id":2,"level":0,"lat":-17.6,"p":204},{"panel":"e","id":2,"level":0,"lat":-14.2,"p":224},{"panel":"e","id":2,"level":0,"lat":-10.1,"p":248},{"panel":"e","id":2,"level":0,"lat":-9.1,"p":235},{"panel":"e","id":2,"level":0,"lat":-7.8,"p":214},{"panel":"e","id":2,"level":0,"lat":-6.7,"p":191},{"panel":"e","id":2,"level":0,"lat":-5.7,"p":171},{"panel":"e","id":2,"level":0,"lat":-4.7,"p":151},{"panel":"e","id":2,"level":0,"lat":-3.7,"p":128},{"panel":"e","id":2,"level":0,"lat":-3,"p":114},{"panel":"e","id":2,"level":0,"lat":-2.1,"p":100},
{"panel":"e","id":3,"level":0,"lat":20.6,"p":100},{"panel":"e","id":3,"level":0,"lat":22.2,"p":106},{"panel":"e","id":3,"level":0,"lat":24.6,"p":110},{"panel":"e","id":3,"level":0,"lat":25.9,"p":106},{"panel":"e","id":3,"level":0,"lat":27.3,"p":100},
{"panel":"e","id":4,"level":0,"lat":19.5,"p":807},{"panel":"e","id":4,"level":0,"lat":20.1,"p":711},{"panel":"e","id":4,"level":0,"lat":22.5,"p":645},{"panel":"e","id":4,"level":0,"lat":25.2,"p":577},{"panel":"e","id":4,"level":0,"lat":27.6,"p":508},{"panel":"e","id":4,"level":0,"lat":28.6,"p":536},{"panel":"e","id":4,"level":0,"lat":30,"p":618},{"panel":"e","id":4,"level":0,"lat":29.3,"p":686},{"panel":"e","id":4,"level":0,"lat":28.6,"p":789},{"panel":"e","id":4,"level":0,"lat":27.6,"p":883},{"panel":"e","id":4,"level":0,"lat":26.3,"p":904},{"panel":"e","id":4,"level":0,"lat":24.9,"p":988},{"panel":"e","id":4,"level":0,"lat":23.2,"p":1000},{"panel":"e","id":4,"level":0,"lat":21.8,"p":946},{"panel":"e","id":4,"level":0,"lat":20.5,"p":904},{"panel":"e","id":4,"level":0,"lat":19.7,"p":863},{"panel":"e","id":4,"level":0,"lat":19.5,"p":807},
{"panel":"e","id":5,"level":2,"lat":-30,"p":682},{"panel":"e","id":5,"level":2,"lat":-28.2,"p":602},{"panel":"e","id":5,"level":2,"lat":-25.1,"p":508},{"panel":"e","id":5,"level":2,"lat":-21.7,"p":462},{"panel":"e","id":5,"level":2,"lat":-18.3,"p":439},{"panel":"e","id":5,"level":2,"lat":-16.3,"p":439},{"panel":"e","id":5,"level":2,"lat":-12.9,"p":451},{"panel":"e","id":5,"level":2,"lat":-10,"p":480},{"panel":"e","id":5,"level":2,"lat":-8.8,"p":445},{"panel":"e","id":5,"level":2,"lat":-7.1,"p":371},{"panel":"e","id":5,"level":2,"lat":-5,"p":316},{"panel":"e","id":5,"level":2,"lat":-3.3,"p":294},{"panel":"e","id":5,"level":2,"lat":-1.3,"p":275},{"panel":"e","id":5,"level":2,"lat":2.1,"p":250},{"panel":"e","id":5,"level":2,"lat":5.2,"p":219},{"panel":"e","id":5,"level":2,"lat":6.9,"p":219},{"panel":"e","id":5,"level":2,"lat":8.2,"p":240},{"panel":"e","id":5,"level":2,"lat":9.5,"p":281},{"panel":"e","id":5,"level":2,"lat":9.9,"p":316},{"panel":"e","id":5,"level":2,"lat":10.1,"p":435},{"panel":"e","id":5,"level":2,"lat":10.4,"p":604},{"panel":"e","id":5,"level":2,"lat":10.6,"p":789},{"panel":"e","id":5,"level":2,"lat":10.6,"p":863},{"panel":"e","id":5,"level":2,"lat":8.9,"p":904},{"panel":"e","id":5,"level":2,"lat":4.1,"p":913},{"panel":"e","id":5,"level":2,"lat":0.1,"p":904},{"panel":"e","id":5,"level":2,"lat":-3.3,"p":883},{"panel":"e","id":5,"level":2,"lat":-6.7,"p":842},{"panel":"e","id":5,"level":2,"lat":-10.1,"p":761},{"panel":"e","id":5,"level":2,"lat":-12.9,"p":825},{"panel":"e","id":5,"level":2,"lat":-16.6,"p":883},{"panel":"e","id":5,"level":2,"lat":-19.7,"p":917},{"panel":"e","id":5,"level":2,"lat":-23.1,"p":933},{"panel":"e","id":5,"level":2,"lat":-26.5,"p":917},{"panel":"e","id":5,"level":2,"lat":-30,"p":892},
{"panel":"e","id":6,"level":4,"lat":-4.7,"p":577},{"panel":"e","id":6,"level":4,"lat":-3,"p":527},{"panel":"e","id":6,"level":4,"lat":0.1,"p":527},{"panel":"e","id":6,"level":4,"lat":3.5,"p":522},{"panel":"e","id":6,"level":4,"lat":5.2,"p":550},{"panel":"e","id":6,"level":4,"lat":6.9,"p":632},{"panel":"e","id":6,"level":4,"lat":7.9,"p":718},{"panel":"e","id":6,"level":4,"lat":7.9,"p":789},{"panel":"e","id":6,"level":4,"lat":7.2,"p":863},{"panel":"e","id":6,"level":4,"lat":4.1,"p":871},{"panel":"e","id":6,"level":4,"lat":0.1,"p":863},{"panel":"e","id":6,"level":4,"lat":-2.7,"p":825},{"panel":"e","id":6,"level":4,"lat":-4.4,"p":754},{"panel":"e","id":6,"level":4,"lat":-5,"p":673},{"panel":"e","id":6,"level":4,"lat":-4.7,"p":577},

{"panel":"f","id":1,"level":0,"lat":-30,"p":104},{"panel":"f","id":1,"level":0,"lat":-27.1,"p":117},{"panel":"f","id":1,"level":0,"lat":-24.4,"p":134},{"panel":"f","id":1,"level":0,"lat":-21.7,"p":155},{"panel":"f","id":1,"level":0,"lat":-20,"p":183},{"panel":"f","id":1,"level":0,"lat":-19.3,"p":214},{"panel":"f","id":1,"level":0,"lat":-18,"p":263},{"panel":"f","id":1,"level":0,"lat":-16.6,"p":332},{"panel":"f","id":1,"level":0,"lat":-16.1,"p":395},{"panel":"f","id":1,"level":0,"lat":-16.4,"p":496},{"panel":"f","id":1,"level":0,"lat":-17.3,"p":577},{"panel":"f","id":1,"level":0,"lat":-19,"p":618},{"panel":"f","id":1,"level":0,"lat":-21,"p":645},{"panel":"f","id":1,"level":0,"lat":-22.7,"p":686},{"panel":"f","id":1,"level":0,"lat":-23.7,"p":754},{"panel":"f","id":1,"level":0,"lat":-24.4,"p":863},{"panel":"f","id":1,"level":0,"lat":-24.1,"p":946},{"panel":"f","id":1,"level":0,"lat":-22.7,"p":1000},{"panel":"f","id":1,"level":0,"lat":-0.6,"p":1000},{"panel":"f","id":1,"level":0,"lat":-0.3,"p":967},{"panel":"f","id":1,"level":0,"lat":-0.1,"p":863},{"panel":"f","id":1,"level":0,"lat":0.4,"p":754},{"panel":"f","id":1,"level":0,"lat":0.9,"p":629},{"panel":"f","id":1,"level":0,"lat":1,"p":455},{"panel":"f","id":1,"level":0,"lat":0.9,"p":316},{"panel":"f","id":1,"level":0,"lat":0.4,"p":230},{"panel":"f","id":1,"level":0,"lat":-0.6,"p":179},{"panel":"f","id":1,"level":0,"lat":-1,"p":145},{"panel":"f","id":1,"level":0,"lat":-1.2,"p":117},{"panel":"f","id":1,"level":0,"lat":-1.3,"p":100},
{"panel":"f","id":2,"level":0,"lat":27.6,"p":100},{"panel":"f","id":2,"level":0,"lat":27.3,"p":128},{"panel":"f","id":2,"level":0,"lat":27.1,"p":151},{"panel":"f","id":2,"level":0,"lat":28.6,"p":175},{"panel":"f","id":2,"level":0,"lat":30,"p":199},
{"panel":"f","id":3,"level":0,"lat":30,"p":300},{"panel":"f","id":3,"level":0,"lat":25.9,"p":305},{"panel":"f","id":3,"level":0,"lat":22.5,"p":313},{"panel":"f","id":3,"level":0,"lat":19.1,"p":335},{"panel":"f","id":3,"level":0,"lat":17.8,"p":356},{"panel":"f","id":3,"level":0,"lat":17.4,"p":414},{"panel":"f","id":3,"level":0,"lat":17.1,"p":522},{"panel":"f","id":3,"level":0,"lat":16.7,"p":659},{"panel":"f","id":3,"level":0,"lat":16.4,"p":789},{"panel":"f","id":3,"level":0,"lat":16.3,"p":904},{"panel":"f","id":3,"level":0,"lat":17.1,"p":979},{"panel":"f","id":3,"level":0,"lat":17.8,"p":1000},{"panel":"f","id":3,"level":0,"lat":30,"p":1000},
{"panel":"f","id":4,"level":-2,"lat":-9.5,"p":199},{"panel":"f","id":4,"level":-2,"lat":-11.5,"p":230},{"panel":"f","id":4,"level":-2,"lat":-12.3,"p":275},{"panel":"f","id":4,"level":-2,"lat":-12.5,"p":363},{"panel":"f","id":4,"level":-2,"lat":-12.7,"p":496},{"panel":"f","id":4,"level":-2,"lat":-13.2,"p":632},{"panel":"f","id":4,"level":-2,"lat":-13.5,"p":754},{"panel":"f","id":4,"level":-2,"lat":-12.9,"p":863},{"panel":"f","id":4,"level":-2,"lat":-11.5,"p":925},{"panel":"f","id":4,"level":-2,"lat":-8.1,"p":946},{"panel":"f","id":4,"level":-2,"lat":-4,"p":946},{"panel":"f","id":4,"level":-2,"lat":-1.3,"p":925},{"panel":"f","id":4,"level":-2,"lat":-1,"p":718},{"panel":"f","id":4,"level":-2,"lat":-1.3,"p":550},{"panel":"f","id":4,"level":-2,"lat":-2.3,"p":435},{"panel":"f","id":4,"level":-2,"lat":-3.7,"p":363},{"panel":"f","id":4,"level":-2,"lat":-5.4,"p":288},{"panel":"f","id":4,"level":-2,"lat":-7.1,"p":230},{"panel":"f","id":4,"level":-2,"lat":-8.4,"p":204},{"panel":"f","id":4,"level":-2,"lat":-9.5,"p":199},
{"panel":"f","id":5,"level":-2,"lat":30,"p":686},{"panel":"f","id":5,"level":-2,"lat":29,"p":789},{"panel":"f","id":5,"level":-2,"lat":28.5,"p":946},{"panel":"f","id":5,"level":-2,"lat":28.6,"p":1000},
{"panel":"f","id":6,"level":2,"lat":3.5,"p":789},{"panel":"f","id":6,"level":2,"lat":4.1,"p":659},{"panel":"f","id":6,"level":2,"lat":5,"p":550},{"panel":"f","id":6,"level":2,"lat":5.4,"p":395},{"panel":"f","id":6,"level":2,"lat":5.5,"p":316},{"panel":"f","id":6,"level":2,"lat":6.2,"p":250},{"panel":"f","id":6,"level":2,"lat":7.6,"p":214},{"panel":"f","id":6,"level":2,"lat":9.6,"p":190},{"panel":"f","id":6,"level":2,"lat":12.3,"p":187},{"panel":"f","id":6,"level":2,"lat":13.7,"p":195},{"panel":"f","id":6,"level":2,"lat":13.7,"p":219},{"panel":"f","id":6,"level":2,"lat":13,"p":316},{"panel":"f","id":6,"level":2,"lat":12.2,"p":455},{"panel":"f","id":6,"level":2,"lat":12,"p":604},{"panel":"f","id":6,"level":2,"lat":12,"p":789},{"panel":"f","id":6,"level":2,"lat":11,"p":904},{"panel":"f","id":6,"level":2,"lat":6.9,"p":946},{"panel":"f","id":6,"level":2,"lat":4.1,"p":946},{"panel":"f","id":6,"level":2,"lat":3.5,"p":863},{"panel":"f","id":6,"level":2,"lat":3.5,"p":789},
{"panel":"f","id":7,"level":4,"lat":6.5,"p":659},{"panel":"f","id":7,"level":4,"lat":7.2,"p":654},{"panel":"f","id":7,"level":4,"lat":7.7,"p":686},{"panel":"f","id":7,"level":4,"lat":7.8,"p":807},{"panel":"f","id":7,"level":4,"lat":7.2,"p":845},{"panel":"f","id":7,"level":4,"lat":6.7,"p":825},{"panel":"f","id":7,"level":4,"lat":6.4,"p":718},{"panel":"f","id":7,"level":4,"lat":6.5,"p":659},

{"panel":"g","id":1,"level":0,"lat":-30,"p":308},{"panel":"g","id":1,"level":0,"lat":-27.8,"p":240},{"panel":"g","id":1,"level":0,"lat":-25.8,"p":209},{"panel":"g","id":1,"level":0,"lat":-24.4,"p":179},{"panel":"g","id":1,"level":0,"lat":-22.7,"p":157},{"panel":"g","id":1,"level":0,"lat":-21,"p":152},{"panel":"g","id":1,"level":0,"lat":-19.7,"p":143},{"panel":"g","id":1,"level":0,"lat":-16.9,"p":123},{"panel":"g","id":1,"level":0,"lat":-13.9,"p":101},
{"panel":"g","id":2,"level":0,"lat":-30,"p":648},{"panel":"g","id":2,"level":0,"lat":-28.8,"p":846},{"panel":"g","id":2,"level":0,"lat":-27.8,"p":950},{"panel":"g","id":2,"level":0,"lat":-27.1,"p":1000},{"panel":"g","id":2,"level":0,"lat":-10.1,"p":1000},{"panel":"g","id":2,"level":0,"lat":-9.1,"p":938},{"panel":"g","id":2,"level":0,"lat":-8.4,"p":775},{"panel":"g","id":2,"level":0,"lat":-8.2,"p":593},{"panel":"g","id":2,"level":0,"lat":-8.4,"p":488},{"panel":"g","id":2,"level":0,"lat":-9.5,"p":373},{"panel":"g","id":2,"level":0,"lat":-10.3,"p":308},{"panel":"g","id":2,"level":0,"lat":-10.1,"p":245},{"panel":"g","id":2,"level":0,"lat":-10.1,"p":195},{"panel":"g","id":2,"level":0,"lat":-9.5,"p":148},{"panel":"g","id":2,"level":0,"lat":-7.8,"p":120},{"panel":"g","id":2,"level":0,"lat":-6.1,"p":108},{"panel":"g","id":2,"level":0,"lat":-4.7,"p":100},
{"panel":"g","id":3,"level":0,"lat":30,"p":340},{"panel":"g","id":3,"level":0,"lat":28.3,"p":332},{"panel":"g","id":3,"level":0,"lat":26.6,"p":308},{"panel":"g","id":3,"level":0,"lat":25.2,"p":281},{"panel":"g","id":3,"level":0,"lat":23.9,"p":250},{"panel":"g","id":3,"level":0,"lat":22.2,"p":214},{"panel":"g","id":3,"level":0,"lat":19.8,"p":207},{"panel":"g","id":3,"level":0,"lat":17.1,"p":226},{"panel":"g","id":3,"level":0,"lat":14.4,"p":245},{"panel":"g","id":3,"level":0,"lat":12.7,"p":269},{"panel":"g","id":3,"level":0,"lat":11.6,"p":308},{"panel":"g","id":3,"level":0,"lat":11.1,"p":389},{"panel":"g","id":3,"level":0,"lat":11,"p":488},{"panel":"g","id":3,"level":0,"lat":10.8,"p":621},{"panel":"g","id":3,"level":0,"lat":11,"p":775},{"panel":"g","id":3,"level":0,"lat":12,"p":896},{"panel":"g","id":3,"level":0,"lat":13.7,"p":971},{"panel":"g","id":3,"level":0,"lat":14.4,"p":1000},{"panel":"g","id":3,"level":0,"lat":30,"p":1000},
{"panel":"g","id":4,"level":-2,"lat":17.1,"p":414},{"panel":"g","id":4,"level":-2,"lat":19.1,"p":447},{"panel":"g","id":4,"level":-2,"lat":21.8,"p":511},{"panel":"g","id":4,"level":-2,"lat":24.6,"p":593},{"panel":"g","id":4,"level":-2,"lat":26.3,"p":648},{"panel":"g","id":4,"level":-2,"lat":26.6,"p":704},{"panel":"g","id":4,"level":-2,"lat":25.6,"p":775},{"panel":"g","id":4,"level":-2,"lat":23.9,"p":846},{"panel":"g","id":4,"level":-2,"lat":21.8,"p":888},{"panel":"g","id":4,"level":-2,"lat":19.1,"p":908},{"panel":"g","id":4,"level":-2,"lat":17.1,"p":888},{"panel":"g","id":4,"level":-2,"lat":15.7,"p":793},{"panel":"g","id":4,"level":-2,"lat":14.9,"p":654},{"panel":"g","id":4,"level":-2,"lat":14.4,"p":566},{"panel":"g","id":4,"level":-2,"lat":14.7,"p":481},{"panel":"g","id":4,"level":-2,"lat":15.7,"p":431},{"panel":"g","id":4,"level":-2,"lat":17.1,"p":414},
{"panel":"g","id":5,"level":2,"lat":-4.7,"p":950},{"panel":"g","id":5,"level":2,"lat":-6.1,"p":846},{"panel":"g","id":5,"level":2,"lat":-6.7,"p":621},{"panel":"g","id":5,"level":2,"lat":-6.9,"p":389},{"panel":"g","id":5,"level":2,"lat":-6.6,"p":269},{"panel":"g","id":5,"level":2,"lat":-5.7,"p":214},{"panel":"g","id":5,"level":2,"lat":-4,"p":183},{"panel":"g","id":5,"level":2,"lat":-1.3,"p":169},{"panel":"g","id":5,"level":2,"lat":2.1,"p":165},{"panel":"g","id":5,"level":2,"lat":5.5,"p":170},{"panel":"g","id":5,"level":2,"lat":7.9,"p":183},{"panel":"g","id":5,"level":2,"lat":9.6,"p":209},{"panel":"g","id":5,"level":2,"lat":10.6,"p":256},{"panel":"g","id":5,"level":2,"lat":11,"p":340},{"panel":"g","id":5,"level":2,"lat":10.8,"p":488},{"panel":"g","id":5,"level":2,"lat":10.6,"p":702},{"panel":"g","id":5,"level":2,"lat":9.9,"p":917},{"panel":"g","id":5,"level":2,"lat":7.6,"p":950},{"panel":"g","id":5,"level":2,"lat":3.5,"p":971},{"panel":"g","id":5,"level":2,"lat":-2,"p":971},{"panel":"g","id":5,"level":2,"lat":-4.7,"p":950},
{"panel":"g","id":6,"level":4,"lat":-3.3,"p":867},{"panel":"g","id":6,"level":4,"lat":-4.1,"p":702},{"panel":"g","id":6,"level":4,"lat":-4.4,"p":488},{"panel":"g","id":6,"level":4,"lat":-4.2,"p":340},{"panel":"g","id":6,"level":4,"lat":-3.7,"p":269},{"panel":"g","id":6,"level":4,"lat":-2.7,"p":230},{"panel":"g","id":6,"level":4,"lat":-0.6,"p":214},{"panel":"g","id":6,"level":4,"lat":2.1,"p":204},{"panel":"g","id":6,"level":4,"lat":4.5,"p":214},{"panel":"g","id":6,"level":4,"lat":6.2,"p":240},{"panel":"g","id":6,"level":4,"lat":7.1,"p":281},{"panel":"g","id":6,"level":4,"lat":7.6,"p":356},{"panel":"g","id":6,"level":4,"lat":7.8,"p":488},{"panel":"g","id":6,"level":4,"lat":7.9,"p":675},{"panel":"g","id":6,"level":4,"lat":7.6,"p":811},{"panel":"g","id":6,"level":4,"lat":6.2,"p":896},{"panel":"g","id":6,"level":4,"lat":2.1,"p":929},{"panel":"g","id":6,"level":4,"lat":-2,"p":917},{"panel":"g","id":6,"level":4,"lat":-3.3,"p":867},
{"panel":"g","id":7,"level":6,"lat":-1.6,"p":793},{"panel":"g","id":7,"level":6,"lat":-2.1,"p":593},{"panel":"g","id":7,"level":6,"lat":-2.1,"p":389},{"panel":"g","id":7,"level":6,"lat":-1.8,"p":308},{"panel":"g","id":7,"level":6,"lat":-1.3,"p":262},{"panel":"g","id":7,"level":6,"lat":0.1,"p":240},{"panel":"g","id":7,"level":6,"lat":2.1,"p":237},{"panel":"g","id":7,"level":6,"lat":3.8,"p":250},{"panel":"g","id":7,"level":6,"lat":4.8,"p":294},{"panel":"g","id":7,"level":6,"lat":5.5,"p":373},{"panel":"g","id":7,"level":6,"lat":5.9,"p":488},{"panel":"g","id":7,"level":6,"lat":5.9,"p":648},{"panel":"g","id":7,"level":6,"lat":5.5,"p":775},{"panel":"g","id":7,"level":6,"lat":4.1,"p":846},{"panel":"g","id":7,"level":6,"lat":0.7,"p":867},{"panel":"g","id":7,"level":6,"lat":-1.6,"p":793},
{"panel":"g","id":8,"level":8,"lat":0.7,"p":332},{"panel":"g","id":8,"level":8,"lat":1.4,"p":406},{"panel":"g","id":8,"level":8,"lat":1.8,"p":511},{"panel":"g","id":8,"level":8,"lat":2.4,"p":621},{"panel":"g","id":8,"level":8,"lat":4,"p":643},{"panel":"g","id":8,"level":8,"lat":4.6,"p":775},{"panel":"g","id":8,"level":8,"lat":3.8,"p":846},{"panel":"g","id":8,"level":8,"lat":1.8,"p":867},{"panel":"g","id":8,"level":8,"lat":0.1,"p":821},{"panel":"g","id":8,"level":8,"lat":-0.5,"p":739},{"panel":"g","id":8,"level":8,"lat":0.1,"p":662},{"panel":"g","id":8,"level":8,"lat":1,"p":621},{"panel":"g","id":8,"level":8,"lat":0.6,"p":488},{"panel":"g","id":8,"level":8,"lat":0.4,"p":389},{"panel":"g","id":8,"level":8,"lat":0.7,"p":332},

{"panel":"h","id":1,"level":0,"lat":-30,"p":101},{"panel":"h","id":1,"level":0,"lat":-28.8,"p":114},{"panel":"h","id":1,"level":0,"lat":-27.8,"p":126},{"panel":"h","id":1,"level":0,"lat":-27.5,"p":143},{"panel":"h","id":1,"level":0,"lat":-26.8,"p":163},{"panel":"h","id":1,"level":0,"lat":-26.1,"p":191},{"panel":"h","id":1,"level":0,"lat":-25.4,"p":235},{"panel":"h","id":1,"level":0,"lat":-24.8,"p":294},{"panel":"h","id":1,"level":0,"lat":-24.3,"p":373},{"panel":"h","id":1,"level":0,"lat":-23.7,"p":488},{"panel":"h","id":1,"level":0,"lat":-23.4,"p":621},{"panel":"h","id":1,"level":0,"lat":-23.2,"p":775},{"panel":"h","id":1,"level":0,"lat":-23.4,"p":929},{"panel":"h","id":1,"level":0,"lat":-24.4,"p":971},{"panel":"h","id":1,"level":0,"lat":-25.4,"p":1000},{"panel":"h","id":1,"level":0,"lat":-30,"p":1000},
{"panel":"h","id":2,"level":0,"lat":-12.9,"p":101},{"panel":"h","id":2,"level":0,"lat":-11.5,"p":104},{"panel":"h","id":2,"level":0,"lat":-9.8,"p":106},{"panel":"h","id":2,"level":0,"lat":-8.1,"p":103},{"panel":"h","id":2,"level":0,"lat":-7.1,"p":100},
{"panel":"h","id":3,"level":0,"lat":15,"p":100},{"panel":"h","id":3,"level":0,"lat":16.4,"p":114},{"panel":"h","id":3,"level":0,"lat":17.8,"p":128},{"panel":"h","id":3,"level":0,"lat":19.8,"p":137},{"panel":"h","id":3,"level":0,"lat":21.2,"p":131},{"panel":"h","id":3,"level":0,"lat":23.9,"p":120},{"panel":"h","id":3,"level":0,"lat":26.3,"p":109},{"panel":"h","id":3,"level":0,"lat":28.7,"p":101},
{"panel":"h","id":4,"level":0,"lat":2.4,"p":156},{"panel":"h","id":4,"level":0,"lat":2.9,"p":152},{"panel":"h","id":4,"level":0,"lat":3.1,"p":176},{"panel":"h","id":4,"level":0,"lat":3.6,"p":195},{"panel":"h","id":4,"level":0,"lat":3.1,"p":214},{"panel":"h","id":4,"level":0,"lat":2.1,"p":209},{"panel":"h","id":4,"level":0,"lat":2.1,"p":187},{"panel":"h","id":4,"level":0,"lat":2.4,"p":156},
{"panel":"h","id":5,"level":0,"lat":7.3,"p":500},{"panel":"h","id":5,"level":0,"lat":7.7,"p":488},{"panel":"h","id":5,"level":0,"lat":8.1,"p":500},{"panel":"h","id":5,"level":0,"lat":7.9,"p":522},{"panel":"h","id":5,"level":0,"lat":7.6,"p":524},{"panel":"h","id":5,"level":0,"lat":7.3,"p":500},
{"panel":"h","id":6,"level":-2,"lat":-29.5,"p":308},{"panel":"h","id":6,"level":-2,"lat":-28.6,"p":373},{"panel":"h","id":6,"level":-2,"lat":-28,"p":467},{"panel":"h","id":6,"level":-2,"lat":-27.5,"p":621},{"panel":"h","id":6,"level":-2,"lat":-27.1,"p":775},{"panel":"h","id":6,"level":-2,"lat":-26.8,"p":929},{"panel":"h","id":6,"level":-2,"lat":-27.8,"p":963},{"panel":"h","id":6,"level":-2,"lat":-29.2,"p":971},
{"panel":"h","id":7,"level":2,"lat":-20.3,"p":950},{"panel":"h","id":7,"level":2,"lat":-21,"p":775},{"panel":"h","id":7,"level":2,"lat":-21.4,"p":538},{"panel":"h","id":7,"level":2,"lat":-21.4,"p":373},{"panel":"h","id":7,"level":2,"lat":-21,"p":281},{"panel":"h","id":7,"level":2,"lat":-20,"p":245},{"panel":"h","id":7,"level":2,"lat":-17.6,"p":230},{"panel":"h","id":7,"level":2,"lat":-13.5,"p":226},{"panel":"h","id":7,"level":2,"lat":-8.8,"p":235},{"panel":"h","id":7,"level":2,"lat":-5.4,"p":269},{"panel":"h","id":7,"level":2,"lat":-3.3,"p":308},{"panel":"h","id":7,"level":2,"lat":-2,"p":356},{"panel":"h","id":7,"level":2,"lat":-1.3,"p":427},{"panel":"h","id":7,"level":2,"lat":-1.3,"p":488},{"panel":"h","id":7,"level":2,"lat":-2.3,"p":566},{"panel":"h","id":7,"level":2,"lat":-3,"p":648},{"panel":"h","id":7,"level":2,"lat":-3.3,"p":739},{"panel":"h","id":7,"level":2,"lat":-2.7,"p":867},{"panel":"h","id":7,"level":2,"lat":-5.4,"p":908},{"panel":"h","id":7,"level":2,"lat":-9.5,"p":929},{"panel":"h","id":7,"level":2,"lat":-13.5,"p":950},{"panel":"h","id":7,"level":2,"lat":-18.3,"p":963},{"panel":"h","id":7,"level":2,"lat":-20.3,"p":950},
{"panel":"h","id":8,"level":4,"lat":-17.6,"p":389},{"panel":"h","id":8,"level":4,"lat":-16.3,"p":340},{"panel":"h","id":8,"level":4,"lat":-14.2,"p":308},{"panel":"h","id":8,"level":4,"lat":-12.2,"p":308},{"panel":"h","id":8,"level":4,"lat":-10.1,"p":332},{"panel":"h","id":8,"level":4,"lat":-8.1,"p":381},{"panel":"h","id":8,"level":4,"lat":-7.1,"p":443},{"panel":"h","id":8,"level":4,"lat":-6.7,"p":538},{"panel":"h","id":8,"level":4,"lat":-7.1,"p":675},{"panel":"h","id":8,"level":4,"lat":-7.8,"p":811},{"panel":"h","id":8,"level":4,"lat":-9.5,"p":839},{"panel":"h","id":8,"level":4,"lat":-12.9,"p":846},{"panel":"h","id":8,"level":4,"lat":-15.2,"p":811},{"panel":"h","id":8,"level":4,"lat":-16.9,"p":702},{"panel":"h","id":8,"level":4,"lat":-18,"p":593},{"panel":"h","id":8,"level":4,"lat":-18.1,"p":467},{"panel":"h","id":8,"level":4,"lat":-17.6,"p":389},

{"panel":"a","lat":-21.4,"p":236,"t":"0"},{"panel":"a","lat":-29,"p":568,"t":"0"},{"panel":"a","lat":-8.6,"p":192,"t":"0"},{"panel":"a","lat":-9.3,"p":600,"t":"0"},{"panel":"a","lat":23.2,"p":257,"t":"0"},{"panel":"a","lat":16.5,"p":720,"t":"0"},{"panel":"a","lat":-18.6,"p":1000,"t":"0"},{"panel":"a","lat":28.3,"p":1000,"t":"0"},{"panel":"a","lat":1.4,"p":152,"t":"2"},{"panel":"a","lat":-7.1,"p":342,"t":"2"},{"panel":"a","lat":14.4,"p":268,"t":"2"},{"panel":"a","lat":12.9,"p":811,"t":"2"},{"panel":"a","lat":3,"p":182,"t":"4"},{"panel":"a","lat":-5.9,"p":374,"t":"4"},{"panel":"a","lat":10.9,"p":417,"t":"4"},{"panel":"a","lat":-4.4,"p":326,"t":"6"},{"panel":"a","lat":8.2,"p":260,"t":"6"},{"panel":"a","lat":8.2,"p":811,"t":"6"},{"panel":"a","lat":-3,"p":300,"t":"8"},{"panel":"a","lat":7.2,"p":380,"t":"8"},{"panel":"a","lat":2.8,"p":285,"t":"10"},{"panel":"a","lat":4.1,"p":775,"t":"10"},{"panel":"a","lat":1.1,"p":875,"t":"8"},
{"panel":"b","lat":-20.3,"p":276,"t":"0"},{"panel":"b","lat":-19.1,"p":846,"t":"0"},{"panel":"b","lat":1.4,"p":143,"t":"0"},{"panel":"b","lat":2,"p":440,"t":"0"},{"panel":"b","lat":21.2,"p":255,"t":"0"},{"panel":"b","lat":15.7,"p":720,"t":"0"},{"panel":"b","lat":-5.4,"p":168,"t":"-2"},{"panel":"b","lat":-13.5,"p":455,"t":"-2"},{"panel":"b","lat":-0.6,"p":326,"t":"-2"},{"panel":"b","lat":-11.2,"p":358,"t":"-4"},{"panel":"b","lat":-1.5,"p":265,"t":"-4"},{"panel":"b","lat":-7.1,"p":900,"t":"-4"},{"panel":"b","lat":12.7,"p":265,"t":"2"},{"panel":"b","lat":4.1,"p":340,"t":"2"},{"panel":"b","lat":10.6,"p":880,"t":"2"},
{"panel":"c","lat":-20.3,"p":235,"t":"0"},{"panel":"c","lat":-19.7,"p":732,"t":"0"},{"panel":"c","lat":0.7,"p":181,"t":"0"},{"panel":"c","lat":2.1,"p":538,"t":"0"},{"panel":"c","lat":20.1,"p":256,"t":"0"},{"panel":"c","lat":14.4,"p":732,"t":"0"},{"panel":"c","lat":-10.5,"p":173,"t":"-2"},{"panel":"c","lat":-13.2,"p":488,"t":"-2"},{"panel":"c","lat":0.6,"p":340,"t":"-2"},{"panel":"c","lat":-11.2,"p":240,"t":"-4"},{"panel":"c","lat":-1.5,"p":356,"t":"-4"},{"panel":"c","lat":-11.8,"p":775,"t":"-4"},{"panel":"c","lat":-4,"p":300,"t":"-6"},{"panel":"c","lat":-10.2,"p":513,"t":"-6"},{"panel":"c","lat":-7.4,"p":447,"t":"-8"},{"panel":"c","lat":4.3,"p":343,"t":"2"},{"panel":"c","lat":12.3,"p":260,"t":"2"},{"panel":"c","lat":9.4,"p":702,"t":"2"},{"panel":"c","lat":23.5,"p":850,"t":"-2"},
{"panel":"d","lat":-24.8,"p":250,"t":"0"},{"panel":"d","lat":-11.5,"p":152,"t":"0"},{"panel":"d","lat":-8.6,"p":478,"t":"0"},{"panel":"d","lat":8.2,"p":110,"t":"0"},{"panel":"d","lat":21.2,"p":275,"t":"0"},{"panel":"d","lat":17.3,"p":811,"t":"0"},{"panel":"d","lat":4.1,"p":181,"t":"2"},{"panel":"d","lat":-5.8,"p":340,"t":"2"},{"panel":"d","lat":12.7,"p":433,"t":"2"},{"panel":"d","lat":4.4,"p":935,"t":"2"},{"panel":"d","lat":-4,"p":294,"t":"4"},{"panel":"d","lat":6.5,"p":348,"t":"4"},{"panel":"d","lat":0.3,"p":912,"t":"4"},
{"panel":"e","lat":-18,"p":204,"t":"0"},{"panel":"e","lat":-5.4,"p":159,"t":"0"},{"panel":"e","lat":19.6,"p":850,"t":"0"},{"panel":"e","lat":-16.3,"p":439,"t":"2"},{"panel":"e","lat":-3.3,"p":294,"t":"2"},{"panel":"e","lat":9.7,"p":290,"t":"2"},{"panel":"e","lat":-21.4,"p":930,"t":"2"},{"panel":"e","lat":-5.7,"p":860,"t":"2"},{"panel":"e","lat":10.6,"p":860,"t":"2"},{"panel":"e","lat":1.8,"p":526,"t":"4"},{"panel":"e","lat":1.4,"p":866,"t":"4"},
{"panel":"f","lat":-19.3,"p":214,"t":"0"},{"panel":"f","lat":-19,"p":615,"t":"0"},{"panel":"f","lat":-1.2,"p":125,"t":"0"},{"panel":"f","lat":1,"p":425,"t":"0"},{"panel":"f","lat":17.2,"p":482,"t":"0"},{"panel":"f","lat":-12.4,"p":290,"t":"-2"},{"panel":"f","lat":-4,"p":356,"t":"-2"},{"panel":"f","lat":-13,"p":842,"t":"-2"},{"panel":"f","lat":5.4,"p":386,"t":"2"},{"panel":"f","lat":13.3,"p":250,"t":"2"},{"panel":"f","lat":12,"p":686,"t":"2"},{"panel":"f","lat":-16.9,"p":1000,"t":"0"},{"panel":"f","lat":22.2,"p":1000,"t":"0"},
{"panel":"g","lat":-24.8,"p":195,"t":"0"},{"panel":"g","lat":-10.1,"p":214,"t":"0"},{"panel":"g","lat":-8.3,"p":632,"t":"0"},{"panel":"g","lat":17.1,"p":226,"t":"0"},{"panel":"g","lat":11,"p":580,"t":"0"},{"panel":"g","lat":18.1,"p":430,"t":"-2"},{"panel":"g","lat":20.1,"p":900,"t":"-2"},{"panel":"g","lat":2.3,"p":165,"t":"2"},{"panel":"g","lat":-6.8,"p":348,"t":"2"},{"panel":"g","lat":10.9,"p":418,"t":"2"},{"panel":"g","lat":-4.3,"p":373,"t":"4"},{"panel":"g","lat":6.4,"p":245,"t":"4"},{"panel":"g","lat":7.9,"p":711,"t":"4"},{"panel":"g","lat":-1.7,"p":300,"t":"6"},{"panel":"g","lat":5.9,"p":478,"t":"6"},{"panel":"g","lat":-1,"p":905,"t":"6"},{"panel":"g","lat":0.7,"p":332,"t":"8"},{"panel":"g","lat":3.6,"p":850,"t":"8"},
{"panel":"h","lat":-26.4,"p":175,"t":"0"},{"panel":"h","lat":-23.7,"p":525,"t":"0"},{"panel":"h","lat":28.7,"p":101,"t":"0"},{"panel":"h","lat":-29.5,"p":324,"t":"-2"},{"panel":"h","lat":-8.8,"p":235,"t":"2"},{"panel":"h","lat":-21.3,"p":389,"t":"2"},{"panel":"h","lat":-3,"p":566,"t":"2"},{"panel":"h","lat":-12.5,"p":950,"t":"2"},{"panel":"h","lat":-16.3,"p":340,"t":"4"},{"panel":"h","lat":-6.8,"p":538,"t":"4"},

{"panel":"a","lat":0,"p":100,"h":"EOF-1"},{"panel":"b","lat":0,"p":100,"h":"EOF-2"},
{"panel":"a","lat":-30,"p":100,"title":"(a) Group A"},{"panel":"b","lat":-30,"p":100,"title":"(b) Group A"},{"panel":"c","lat":-30,"p":100,"title":"(c) Group B"},{"panel":"d","lat":-30,"p":100,"title":"(d) Group B"},{"panel":"e","lat":-30,"p":100,"title":"(e) Group C: IPSL-CM5A-LR"},{"panel":"f","lat":-30,"p":100,"title":"(f) Group C: IPSL-CM5A-LR"},{"panel":"g","lat":-30,"p":100,"title":"(g) Group C: FGOALS-s2"},{"panel":"h","lat":-30,"p":100,"title":"(h) Group C: FGOALS-s2"}
]},
"facet": {"field": "panel", "type": "nominal", "title": null, "header": {"labelExpr": "''", "labelFontSize": 0, "labelPadding": 0, "title": null}},
"columns": 2,
"bounds": "flush",
"spacing": {"row": 36, "column": 66},
"resolve": {"axis": {"x": "independent", "y": "independent"}},
"spec": {
  "width": 294,
  "height": 168,
  "encoding": {
    "x": {"field": "lat", "type": "quantitative", "scale": {"domain": [-30, 30], "nice": false, "zero": false}, "axis": {"values": [-30, -20, -10, 0, 10, 20, 30], "title": null, "labelFlush": false, "labelExpr": "datum.value < 0 ? (-datum.value) + '°S' : (datum.value > 0 ? datum.value + '°N' : '0°')"}},
    "y": {"field": "p", "type": "quantitative", "scale": {"type": "log", "domain": [100, 1000], "reverse": true, "nice": false}, "axis": {"values": [100, 150, 200, 250, 300, 400, 500, 700, 850, 1000], "format": "d", "title": "Pressure (hPa)", "titleFontSize": 12, "titleFontWeight": "normal", "labelFlush": false, "titlePadding": 4}}
  },
  "layer": [
    {"transform": [{"filter": "isValid(datum.level)"}], "mark": {"type": "line", "color": "black", "strokeJoin": "round"}, "encoding": {"detail": {"field": "id", "type": "nominal"}, "order": {"value": null}, "strokeWidth": {"condition": {"test": "datum.level == 0", "value": 3.2}, "value": 1.2}, "strokeDash": {"condition": {"test": "datum.level < 0", "value": [1.5, 2.5]}, "value": [1, 0]}}},
    {"transform": [{"filter": "isValid(datum.t)"}], "mark": {"type": "text", "fontSize": 8, "stroke": "white", "strokeWidth": 4, "fill": "white", "baseline": "middle", "align": "center"}, "encoding": {"text": {"field": "t"}}},
    {"transform": [{"filter": "isValid(datum.t)"}], "mark": {"type": "text", "fontSize": 8, "fill": "black", "baseline": "middle", "align": "center"}, "encoding": {"text": {"field": "t"}}},
    {"transform": [{"filter": "isValid(datum.h)"}], "mark": {"type": "text", "fontSize": 10, "fill": "black", "baseline": "alphabetic", "align": "center", "dy": -4}, "encoding": {"text": {"field": "h"}}},
    {"transform": [{"filter": "isValid(datum.title)"}], "mark": {"type": "text", "fontSize": 10, "fill": "black", "baseline": "alphabetic", "align": "left", "dy": -4}, "encoding": {"text": {"field": "title"}}}
  ]
}
}
